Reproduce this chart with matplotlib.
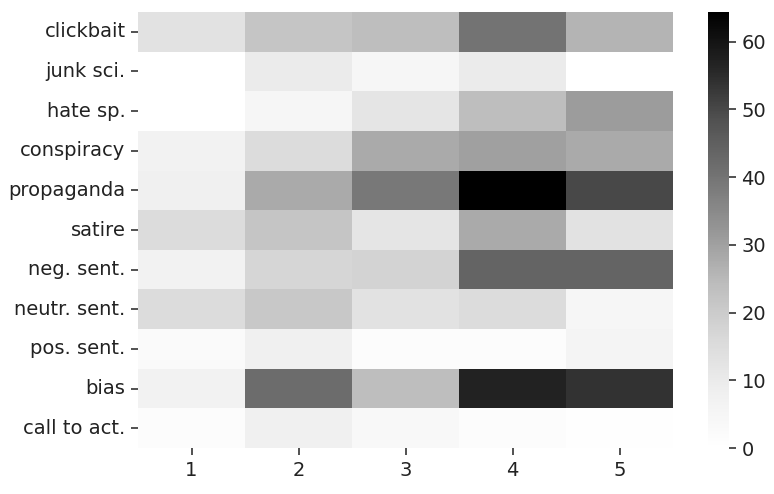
import numpy as np
import matplotlib
matplotlib.use("Agg")
import matplotlib.pyplot as plt
import seaborn as sns

rows = ['clickbait', 'junk sci.', 'hate sp.', 'conspiracy', 'propaganda', 'satire',
        'neg. sent.', 'neutr. sent.', 'pos. sent.', 'bias', 'call to act.']
cols = [1, 2, 3, 4, 5]

clickbait = [13, 22, 24, 40, 26]
junk_sci = [0, 10, 5, 10, 0]
hate_sp = [0, 5, 12, 24, 31]
conspiracy = [7, 15, 28, 30, 28]
propaganda = [8, 28, 39, 64.4, 50]
satire = [15, 22, 12, 28, 13]
neg_sent = [7, 17, 18, 44, 44]
neutr_sent = [15, 21, 13, 15, 5]
pos_sent = [3, 8, 2, 2, 6]
bias = [7, 42, 24, 57, 54]
call_to_act = [2, 8, 4, 2, 1]

data = np.array([clickbait, junk_sci, hate_sp, conspiracy, propaganda, satire,
                 neg_sent, neutr_sent, pos_sent, bias, call_to_act])

fig = plt.figure(figsize=(7.74, 4.94), dpi=100)
ax = fig.add_axes([138/774, 46/494, 535/774, 436/494])
cax = fig.add_axes([708/774, 46/494, 21/774, 436/494])

sns.heatmap(data, cmap='Greys', vmin=0, vmax=data.max(), ax=ax, cbar_ax=cax,
            xticklabels=cols, yticklabels=rows)
ax.set_yticklabels(rows, rotation=0)
ax.tick_params(axis='both', labelsize=14, length=5, width=1.1, pad=4,
               colors='#222222')
cax.tick_params(labelsize=14, length=5, width=1.1, pad=4, colors='#222222')

fig.savefig('out.png', dpi=100)
